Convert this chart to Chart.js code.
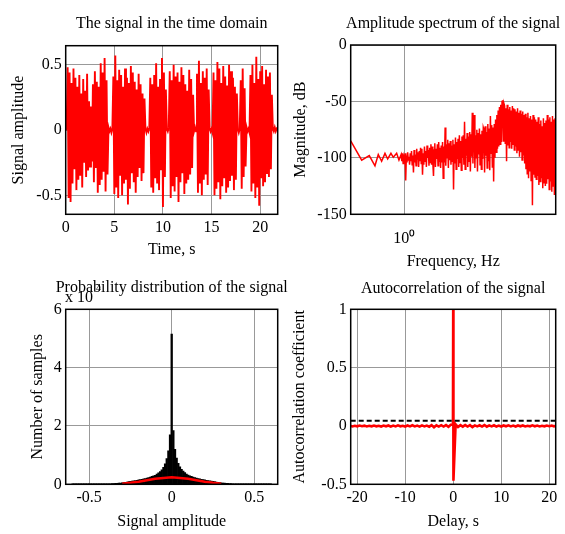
<!DOCTYPE html>
<html>
<head>
<meta charset="utf-8">
<script src="https://cdn.jsdelivr.net/npm/chart.js@4.4.1/dist/chart.umd.min.js"></script>
<style>
  html, body { margin: 0; padding: 0; background: #fff; }
  #wrap { position: relative; width: 565px; height: 534px; }
  #wrap canvas { position: absolute; left: 0; top: 0; }
</style>
</head>
<body>
<div id="wrap">
  <canvas id="timeChart" width="565" height="534"></canvas>
  <canvas id="specChart" width="565" height="534"></canvas>
  <canvas id="histChart" width="565" height="534"></canvas>
  <canvas id="acfChart" width="565" height="534"></canvas>
</div>
<script>
'use strict';

// ---- time domain signal, one sample every 0.1 s starting at t = 0
let sigStep = 0.1;
let sigAmp = [
    0, 0.01,
    0.48, -0.52, 0.44, -0.55, 0.36, -0.41, 0.47, -0.30, 0.40, -0.46,
    0.33, -0.38, 0.42, -0.35, 0.28, -0.44, 0.39, -0.25, 0.30, -0.36,
    0.43, -0.31, 0.22, -0.28, 0.18, -0.24, 0.35, -0.40, 0.45, -0.29,
    0.37, -0.48, 0.33, -0.42, 0.51, -0.38, 0.44, -0.32, 0.55, -0.47,
    0.38, -0.34,
    0.02, -0.01, 0.01, -0.02, 0.01,
    0.41, -0.49, 0.57, -0.44, 0.38, -0.52, 0.46, -0.35, 0.42, -0.50,
    0.33, -0.41, 0.47, -0.38, 0.40, -0.57, 0.36, -0.45, 0.49, -0.33,
    0.44, -0.40, 0.37, -0.48, 0.31, -0.36, 0.43, -0.29, 0.35, -0.39,
    0.28, -0.33, 0.24,
    0.01, -0.02, 0.01, -0.01, 0.02,
    0.40, -0.44, 0.35, -0.48, 0.42, -0.37, 0.51, -0.41, 0.33, -0.46,
    0.39, -0.30, 0.55, -0.59, 0.44, -0.36, 0.31,
    0.01, -0.01, 0.02,
    0.45, -0.52, 0.38, -0.43, 0.50, -0.47, 0.41, -0.36, 0.44, -0.55,
    0.37, -0.40, 0.48, -0.33, 0.42, -0.49, 0.35, -0.41, 0.30, -0.38,
    0.46, -0.34, 0.39, -0.29, 0.27,
    -0.01, 0.02, -0.01,
    0.43, -0.48, 0.53, -0.41, 0.36, -0.50, 0.45, -0.38, 0.40, -0.34,
    0.47, -0.42, 0.31,
    0.02, -0.01, 0.01, -0.02,
    0.44, -0.50, 0.38, -0.45, 0.52, -0.40, 0.47, -0.53, 0.36, -0.43,
    0.49, -0.37, 0.41, -0.48, 0.34, -0.44, 0.50, -0.39, 0.45, -0.35,
    0.40, -0.46, 0.33, -0.38, 0.28,
    0.01, -0.02, 0.01,
    0.38, -0.45, 0.47, -0.36, 0.32, -0.28,
    0.02, -0.01, 0.01, -0.02,
    0.42, -0.47, 0.50, -0.41, 0.36, -0.52, 0.56, -0.44, 0.39, -0.58,
    0.45, -0.37, 0.49, -0.43, 0.35, -0.40, 0.46, -0.33, 0.41, -0.36,
    0.44, -0.30, 0.27,
    0.01, -0.01, 0.02, -0.01, 0.01, 0
];
let sigTicksX = [0, 5, 10, 15, 20];
let sigTicksY = [-0.5, 0, 0.5];

// ---- amplitude spectrum (dB), sparse low end + dense part spread evenly on the log axis
let specFreqLow = [0.16, 0.233, 0.302, 0.367, 0.411, 0.461, 0.517, 0.567, 0.634, 0.687, 0.771, 0.834];
let specDbLow = [-85, -102, -98, -107, -97, -103, -96, -101, -96, -99.5, -96, -102];
let specFreqHigh = [0.9, 178];
let specDbHigh = [
    -97, -103, -96, -105, -99, -101, -96, -120, -98, -104, -95, -102, -99, -106, -96, -103,
    -94, -106, -98, -113, -93, -104, -97, -107, -92, -101, -95, -108, -94, -103, -91, -105,
    -92, -115, -96, -106, -90, -103, -94, -108, -89, -100, -93, -107, -91, -104, -88, -106,
    -90, -105, -116, -93, -87, -108, -92, -101, -88, -107, -86, -103, -91, -109, -89, -104,
    -86, -118, -90, -104, -73, -107, -88, -100, -84, -109, -87, -102, -85, -106, -89, -103,
    -84, -128, -88, -105, -82, -110, -86, -101, -83, -108, -80, -104, -85, -111, -81, -100,
    -80, -106, -68, -110, -83, -98, -78, -108, -81, -103, -77, -112, -79, -99, -60, -105,
    -76, -62, -109, -80, -100, -75, -112, -78, -97, -74, -106, -79, -110, -76, -101, -73,
    -75, -113, -72, -98, -77, -109, -70, -103, -74, -111, -63, -96, -71, -108, -73, -121,
    -70, -100, -66, -95, -62, -92, -58, -90, -55, -88, -53, -86, -50, -49, -85, -52,
    -54, -87, -56, -103, -53, -89, -57, -91, -55, -86, -58, -92, -54, -88, -56, -93,
    -57, -90, -59, -96, -56, -93, -60, -99, -58, -95, -61, -102, -59, -98, -62, -105,
    -61, -110, -64, -114, -60, -118, -65, -112, -63, -120, -66, -142, -62, -115, -64, -117,
    -66, -119, -68, -116, -64, -124, -70, -121, -67, -118, -72, -127, -65, -122, -69, -125,
    -67, -123, -62, -119, -66, -128, -64, -121, -68, -130, -63, -125, -66, -133, -65, -128
];
let specTicksX = [1];
let specTicksY = [-150, -100, -50, 0];

// ---- histogram (x 10^4 samples), bins of 0.01 from -0.60 to 0.60
let histStart = -0.6;
let histStep = 0.01;
let histCount = [
    0.002, 0.003, 0.003, 0.004, 0.004, 0.004, 0.005, 0.005, 0.005, 0.006,
    0.006, 0.006, 0.007, 0.007, 0.008, 0.008, 0.009, 0.009, 0.01, 0.011,
    0.012, 0.014, 0.016, 0.019, 0.022, 0.026, 0.03, 0.035, 0.04, 0.045,
    0.05, 0.06, 0.07, 0.08, 0.09, 0.1, 0.11, 0.12, 0.13, 0.14,
    0.15, 0.16, 0.17, 0.19, 0.2, 0.21, 0.23, 0.25, 0.27, 0.29,
    0.31, 0.35, 0.39, 0.44, 0.5, 0.58, 0.7, 0.88, 1.15, 1.7,
    5.15,
    1.84, 1.2, 0.9, 0.72, 0.6, 0.51, 0.45, 0.4, 0.35, 0.32,
    0.29, 0.27, 0.25, 0.23, 0.21, 0.2, 0.19, 0.17, 0.16, 0.15,
    0.14, 0.13, 0.12, 0.11, 0.1, 0.09, 0.08, 0.07, 0.06, 0.05,
    0.045, 0.04, 0.035, 0.03, 0.026, 0.022, 0.019, 0.016, 0.014, 0.012,
    0.011, 0.01, 0.009, 0.009, 0.008, 0.008, 0.007, 0.007, 0.006, 0.006,
    0.006, 0.005, 0.005, 0.005, 0.004, 0.004, 0.004, 0.003, 0.003, 0.002
];
let fitX = [-0.3, -0.25, -0.2, -0.15, -0.1, -0.05, 0, 0.05, 0.1, 0.15, 0.2, 0.25, 0.3];
let fitY = [0.02, 0.05, 0.09, 0.14, 0.19, 0.22, 0.24, 0.22, 0.19, 0.14, 0.09, 0.05, 0.02];
let histTicksX = [-0.5, 0, 0.5];
let histTicksY = [0, 2, 4, 6];

// ---- autocorrelation
let acfLag = [
    -21.5, -21, -20.5, -20, -19.5, -19, -18.5, -18, -17.5, -17,
    -16.5, -16, -15.5, -15, -14.5, -14, -13.5, -13, -12.5, -12,
    -11.5, -11, -10.5, -10, -9.5, -9, -8.5, -8, -7.5, -7,
    -6.5, -6, -5.5, -5, -4.5, -4, -3.5, -3, -2.5, -2,
    -1.5, -1, -0.5,
    -0.05, 0, 0.05,
    0.5, 1, 1.5, 2, 2.5, 3, 3.5, 4, 4.5, 5,
    5.5, 6, 6.5, 7, 7.5, 8, 8.5, 9, 9.5, 10,
    10.5, 11, 11.5, 12, 12.5, 13, 13.5, 14, 14.5, 15,
    15.5, 16, 16.5, 17, 17.5, 18, 18.5, 19, 19.5, 20,
    20.5, 21, 21.5
];
let acfVal = [
    0.003, -0.004, 0.002, -0.003, 0.004, -0.002, 0.003, -0.004, 0.002, -0.003,
    0.004, -0.003, 0.002, -0.005, 0.003, -0.003, 0.004, -0.006, 0.003, -0.004,
    0.005, -0.003, 0.002, -0.005, 0.004, -0.004, 0.006, -0.004, 0.003, -0.006,
    0.005, -0.004, 0.003, -0.006, 0.007, -0.012, 0.006, -0.005, 0.007, -0.005,
    0.008, -0.008, 0.01,
    0.012, 1, -0.47,
    0.014, -0.009, 0.007, -0.006, 0.008, -0.005, 0.007, -0.01, 0.005, -0.004,
    0.006, -0.005, 0.008, -0.006, 0.005, -0.004, 0.006, -0.005, 0.003, -0.005,
    0.004, -0.003, 0.005, -0.004, 0.003, -0.005, 0.004, -0.003, 0.004, -0.004,
    0.002, -0.003, 0.005, -0.003, 0.003, -0.004, 0.002, -0.003, 0.004, -0.002,
    0.003, -0.003, 0.002
];
let acfLimit = 0.045;
let acfTicksX = [-20, -10, 0, 10, 20];
let acfTicksY = [-0.5, 0, 0.5, 1];

Chart.defaults.font.family = "'Liberation Serif', 'Times New Roman', serif";
Chart.defaults.font.size = 16;
Chart.defaults.color = '#000';
Chart.defaults.animation = false;
Chart.defaults.responsive = false;
Chart.defaults.plugins.legend.display = false;
Chart.defaults.plugins.tooltip.enabled = false;
Chart.defaults.elements.point.radius = 0;
Chart.defaults.elements.line.tension = 0;

// box around the plot + title text (and extra notes)
function panelPlugin(title, titleY, notes) {
    return {
        id: 'panel',
        afterDraw(chart) {
            let a = chart.chartArea;
            let ctx = chart.ctx;
            ctx.save();
            ctx.strokeStyle = '#000';
            ctx.lineWidth = 1.5;
            ctx.strokeRect(a.left, a.top, a.right - a.left, a.bottom - a.top);
            ctx.fillStyle = '#000';
            ctx.textBaseline = 'middle';
            ctx.textAlign = 'center';
            ctx.font = "16px 'Liberation Serif'";
            ctx.fillText(title, (a.left + a.right) / 2, titleY);
            (notes || []).forEach(n => {
                ctx.textAlign = 'left';
                ctx.font = n.size + "px 'Liberation Serif'";
                ctx.fillText(n.text, n.x, n.y);
            });
            ctx.restore();
        }
    };
}

function xAxis(type, min, max, ticks, label, height, titlePad, tickPad, fmt) {
    return {
        type: type,
        position: 'bottom',
        min: min,
        max: max,
        offset: false,
        grid: { color: '#999', drawTicks: false, offset: false },
        border: { display: false },
        ticks: { padding: tickPad, maxRotation: 0, autoSkip: false, callback: fmt || (v => String(v)) },
        afterBuildTicks: s => { s.ticks = ticks.map(v => ({ value: v })); },
        afterFit: s => { s.height = height; s.paddingLeft = 0; s.paddingRight = 0; },
        title: { display: true, text: label, font: { size: 16, lineHeight: 1 }, padding: { top: 0, bottom: titlePad } }
    };
}

function yAxis(min, max, ticks, label, width, titlePad) {
    return {
        type: 'linear',
        position: 'left',
        min: min,
        max: max,
        grid: { color: '#999', drawTicks: false },
        border: { display: false },
        ticks: { padding: 4, autoSkip: false, callback: v => String(v) },
        afterBuildTicks: s => { s.ticks = ticks.map(v => ({ value: v })); },
        afterFit: s => { s.width = width; s.paddingTop = 0; s.paddingBottom = 0; },
        title: { display: true, text: label, font: { size: 16, lineHeight: 1 }, padding: { top: titlePad, bottom: 0 } }
    };
}

// 1. time domain
new Chart(document.getElementById('timeChart'), {
    type: 'line',
    data: {
        datasets: [{
            data: sigAmp.map((v, i) => ({ x: i * sigStep, y: v })),
            borderColor: '#ff0000',
            borderWidth: 1.9
        }]
    },
    options: {
        layout: { padding: { left: 0, top: 45.7, right: 287.3, bottom: 269.7 } },
        scales: {
            x: xAxis('linear', 0, 21.8, sigTicksX, 'Time, s', 50, 6.3, 4),
            y: yAxis(-0.645, 0.645, sigTicksY, 'Signal amplitude', 65.7, 11)
        }
    },
    plugins: [panelPlugin('The signal in the time domain', 23.5)]
});

// 2. amplitude spectrum
let specPoints = specFreqLow.map((f, i) => ({ x: f, y: specDbLow[i] }));
let specRatio = specFreqHigh[1] / specFreqHigh[0];
specDbHigh.forEach((db, i) => {
    specPoints.push({ x: specFreqHigh[0] * Math.pow(specRatio, i / (specDbHigh.length - 1)), y: db });
});

new Chart(document.getElementById('specChart'), {
    type: 'line',
    data: {
        datasets: [{
            data: specPoints,
            borderColor: '#ff0000',
            borderWidth: 1.5
        }]
    },
    options: {
        layout: { padding: { left: 282, top: 45, right: 9.3, bottom: 259.7 } },
        scales: {
            x: xAxis('logarithmic', 0.16, 178, specTicksX, 'Frequency, Hz', 60, 4.3, 15, v => v === 1 ? '10\u2070' : ''),
            y: yAxis(-150, 0, specTicksY, 'Magnitude, dB', 68.7, 10.5)
        }
    },
    plugins: [panelPlugin('Amplitude spectrum of the signal', 24)]
});

// 3. histogram
new Chart(document.getElementById('histChart'), {
    type: 'bar',
    data: {
        datasets: [{
            type: 'line',
            data: fitX.map((x, i) => ({ x: x, y: fitY[i] })),
            borderColor: '#ff0000',
            borderWidth: 2.5,
            order: 0
        }, {
            type: 'bar',
            data: histCount.map((c, i) => ({ x: histStart + i * histStep, y: c })),
            backgroundColor: '#000',
            barPercentage: 1,
            categoryPercentage: 1,
            order: 1
        }]
    },
    options: {
        layout: { padding: { left: 0, top: 309.3, right: 287.3, bottom: 4.7 } },
        scales: {
            x: xAxis('linear', -0.642, 0.642, histTicksX, 'Signal amplitude', 45, 0, 4),
            y: yAxis(0, 6, histTicksY, 'Number of samples', 65.7, 30)
        }
    },
    plugins: [panelPlugin('Probability distribution of the signal', 288, [
        { text: 'x 10', x: 65, y: 297.5, size: 16 },
        { text: '4', x: 96, y: 288, size: 10 }
    ])]
});

// 4. autocorrelation
new Chart(document.getElementById('acfChart'), {
    type: 'line',
    data: {
        datasets: [{
            data: [{ x: -21.35, y: acfLimit }, { x: 21.35, y: acfLimit }],
            borderColor: '#000',
            borderWidth: 2,
            borderDash: [5, 3],
            order: 0
        }, {
            data: acfLag.map((l, i) => ({ x: l, y: acfVal[i] })),
            borderColor: '#ff0000',
            borderWidth: 2.6,
            order: 1
        }]
    },
    options: {
        layout: { padding: { left: 282, top: 309.3, right: 9.3, bottom: 4.7 } },
        scales: {
            x: xAxis('linear', -21.35, 21.35, acfTicksX, 'Delay, s', 45, 0, 4),
            y: yAxis(-0.5, 1, acfTicksY, 'Autocorrelation coefficient', 68.7, 10)
        }
    },
    plugins: [panelPlugin('Autocorrelation of the signal', 289)]
});
</script>
</body>
</html>
